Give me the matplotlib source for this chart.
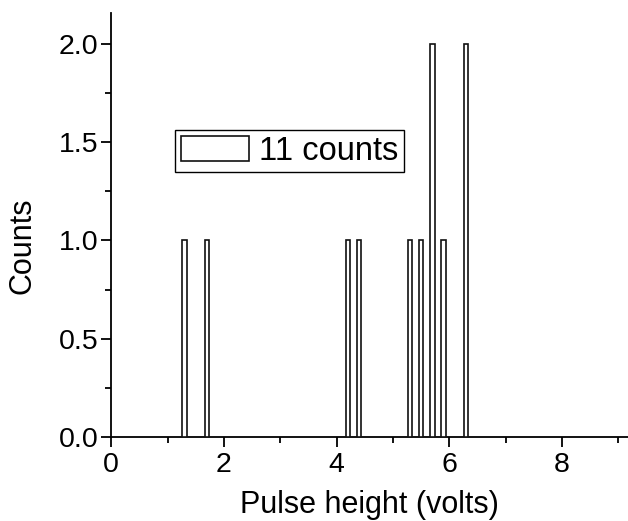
#!/usr/bin/env python3

import numpy as np
import matplotlib
matplotlib.use('Agg')
import matplotlib.pyplot as plt
from matplotlib.ticker import MultipleLocator

# histogram bins (volts) and counts
centers = [1.3, 1.7, 4.2, 4.4, 5.3, 5.5, 5.7, 5.9, 6.3]
counts = [1, 1, 1, 1, 1, 1, 2, 1, 2]
label = '11 counts'


def main():
    plt.rcParams['font.family'] = ['Liberation Sans', 'DejaVu Sans']

    fig = plt.figure(figsize=(6.28, 5.21), dpi=100)
    ax = fig.add_axes([0.177, 0.161, 0.823, 0.814])

    ax.bar(centers, counts, width=0.08, facecolor='white', edgecolor='#111111',
           linewidth=1.2, label=label, zorder=3)

    ax.set_xlim(0, 9.17)
    ax.set_ylim(0, 2.156)

    ax.xaxis.set_major_locator(MultipleLocator(2))
    ax.xaxis.set_minor_locator(MultipleLocator(1))
    ax.yaxis.set_major_locator(MultipleLocator(0.5))
    ax.yaxis.set_minor_locator(MultipleLocator(0.25))
    ax.yaxis.set_major_formatter(lambda y, _: '{:.1f}'.format(y))

    for side in ('top', 'right'):
        ax.spines[side].set_visible(False)
    for side in ('left', 'bottom'):
        ax.spines[side].set_linewidth(1.3)

    ax.tick_params(which='major', direction='out', length=7, width=1.3,
                   labelsize=20.5, pad=2)
    ax.tick_params(axis='x', which='major', pad=4)
    ax.tick_params(which='minor', direction='out', length=4, width=1.3)

    ax.set_xlabel('Pulse height (volts)', fontsize=22, labelpad=8.5)
    ax.set_ylabel('Counts', fontsize=22)
    ax.yaxis.set_label_coords(-0.143, 0.451)

    leg = ax.legend(loc='upper left', bbox_to_anchor=(0.124, 0.725),
                    borderaxespad=0, fontsize=23.5, fancybox=False,
                    handlelength=2.08, handleheight=0.8, handletextpad=0.3,
                    borderpad=0.18, framealpha=1)
    leg.get_frame().set_edgecolor('black')
    leg.get_frame().set_linewidth(1.0)

    fig.savefig('out.png', dpi=100)


if __name__ == '__main__':
    main()
